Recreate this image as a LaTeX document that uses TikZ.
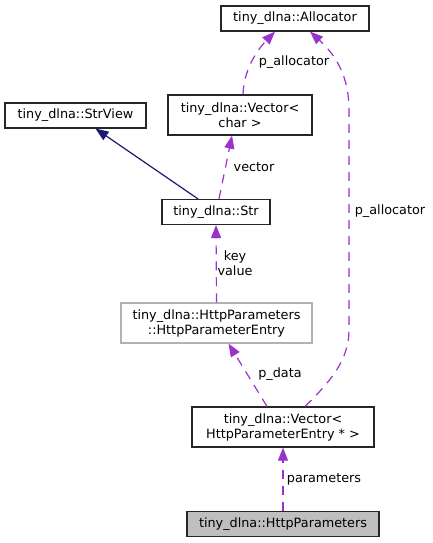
\documentclass[tikz,border=0pt]{standalone}
\usepackage{fontspec}
\setmainfont{DejaVu Sans}
\usetikzlibrary{arrows.meta}
\definecolor{usecol}{HTML}{9A32CD}
\definecolor{navycol}{HTML}{191970}
\tikzset{%
  every class/.style={
    draw=black!85,
    line width=1.2pt,
    fill=white,
    align=center,
    inner sep=0pt,
    minimum height=25pt,
    font=\fontsize{12.8}{15}\selectfont
  },
  class hidden/.style={draw=black!30},
  class current/.style={fill=black!25},
  usage/.style={
    draw=usecol,
    line width=1.2pt,
    dash pattern=on 9pt off 7pt,
    -{Triangle[length=13pt,width=10pt,fill=usecol]}
  },
  inherit/.style={
    draw=navycol,
    line width=1.2pt,
    -{Triangle[length=13pt,width=10pt,fill=navycol]}
  },
  edge label/.style={align=center, inner sep=0pt, font=\fontsize{12.8}{15}\selectfont},
}

\begin{document}
\begin{tikzpicture}[x=1pt, y=-1pt]
\useasboundingbox (0,0) rectangle (433,543);

% classes
\node [every class, minimum width=148pt] (alloc) at (295,18.5) {tiny\_dlna::Allocator};
\node [every class, minimum width=144pt, minimum height=40pt] (vec-char) at (240,115) {tiny\_dlna::Vector<\\char >};
\node [every class, minimum width=141pt] (strview) at (75.5,115.5) {tiny\_dlna::StrView};
\node [every class, minimum width=108pt] (str) at (216,212) {tiny\_dlna::Str};
\node [every class, class hidden, minimum width=191pt, minimum height=40pt] (entry) at (216.5,323) {tiny\_dlna::HttpParameters\\::HttpParameterEntry};
\node [every class, minimum width=182pt, minimum height=40pt] (vec-entry) at (283,427) {tiny\_dlna::Vector<\\HttpParameterEntry * >};
\node [every class, class current, minimum width=192pt] (params) at (283,524) {tiny\_dlna::HttpParameters};

% inheritance
\draw [inherit] ([xshift=-18pt]str.north) -- ([xshift=20pt]strview.south);

% usage
\draw [usage] ([xshift=3pt]str.north) -- ([xshift=-8pt]vec-char.south);
\draw [usage] ([xshift=3pt]vec-char.north) .. controls (244,65) and (262,45) .. ([xshift=-20pt]alloc.south);
\draw [usage] (entry.north) -- (str.south);
\draw [usage] ([xshift=-16pt]vec-entry.north) -- ([xshift=12pt]entry.south);
\draw [usage] ([xshift=22pt]vec-entry.north) .. controls (330,382) and (349,360) .. (349,330)
  -- (349,110) .. controls (349,70) and (330,50) .. ([xshift=15pt]alloc.south);
\draw [usage] (params.north) -- (vec-entry.south);

% labels
\foreach \l/\p in {p\_allocator/{(294,62)}, vector/{(254,167)}, key\\value/{(235,263)},
    p\_allocator/{(390,211)}, p\_data/{(280,374)}, parameters/{(324,479)}}
  \node [edge label] at \p {\l};

\end{tikzpicture}
\end{document}
